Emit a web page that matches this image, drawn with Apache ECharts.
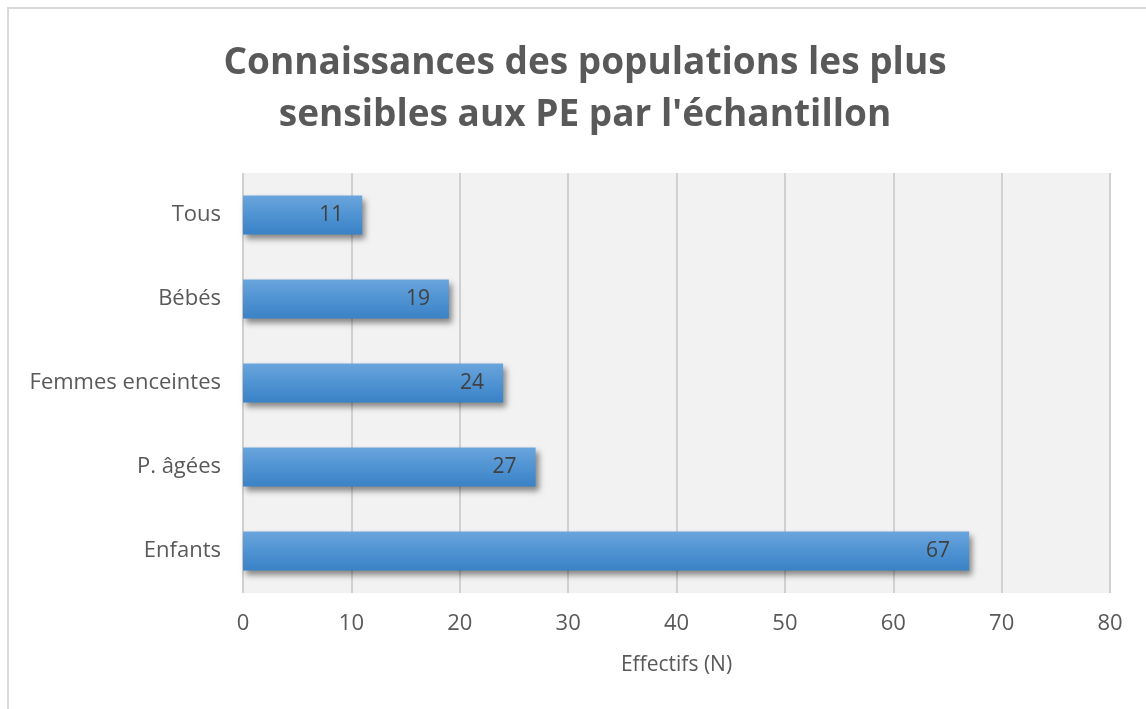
<!DOCTYPE html>
<html>
<head>
<meta charset="utf-8">
<script src="https://cdn.jsdelivr.net/npm/echarts@6/dist/echarts.min.js"></script>
<style>
html,body{margin:0;padding:0;background:#fff;}
#chart{width:1146px;height:709px;}
</style>
</head>
<body>
<div id="chart"></div>
<script>
const categories = ["Enfants", "P. âgées", "Femmes enceintes", "Bébés", "Tous"];
const values = [67, 27, 24, 19, 11];
const titleText = "Connaissances des populations les plus\nsensibles aux PE par l'échantillon";
const axisName = "Effectifs (N)";

const chart = echarts.init(document.getElementById('chart'));
const font = "'Open Sans', 'Noto Sans', sans-serif";
chart.setOption({
  animation: false,
  backgroundColor: '#ffffff',
  textStyle: { fontFamily: font },
  title: {
    text: titleText,
    left: 580,
    textAlign: 'center',
    top: 32,
    textStyle: { fontFamily: font, fontSize: 37, fontWeight: 'bold', color: '#595959', lineHeight: 52 }
  },
  graphic: [{
    type: 'rect', silent: true, z: -1,
    shape: { x: 8, y: 8, width: 1150, height: 720 },
    style: { fill: 'none', stroke: '#d9d9d9', lineWidth: 2 }
  }],
  grid: { left: 243, right: 36, top: 173, bottom: 116, backgroundColor: '#f2f2f2', show: true, borderWidth: 0 },
  xAxis: {
    type: 'value', min: 0, max: 80, interval: 10,
    name: axisName, nameLocation: 'middle', nameGap: 62,
    nameTextStyle: { fontFamily: font, fontSize: 21, color: '#595959' },
    axisLine: { show: false }, axisTick: { show: false },
    axisLabel: { fontFamily: font, fontSize: 22, color: '#595959', margin: 20 },
    splitLine: { show: true, lineStyle: { color: '#d0d0d0', width: 2 } }
  },
  yAxis: {
    type: 'category', data: categories,
    axisLine: { show: false }, axisTick: { show: false },
    axisLabel: { fontFamily: font, fontSize: 22, color: '#595959', margin: 22 }
  },
  series: [{
    type: 'bar', data: values, barWidth: 39,
    itemStyle: {
      color: new echarts.graphic.LinearGradient(0, 0, 0, 1, [
        { offset: 0, color: '#6aa5dd' },
        { offset: 0.5, color: '#4f93d2' },
        { offset: 1, color: '#3a82c6' }
      ]),
      shadowColor: 'rgba(0,0,0,0.45)', shadowBlur: 6, shadowOffsetX: 3, shadowOffsetY: 4
    },
    label: {
      show: true, position: 'insideRight', distance: 19,
      fontFamily: font, fontSize: 21, color: '#404040'
    }
  }]
});
</script>
</body>
</html>
